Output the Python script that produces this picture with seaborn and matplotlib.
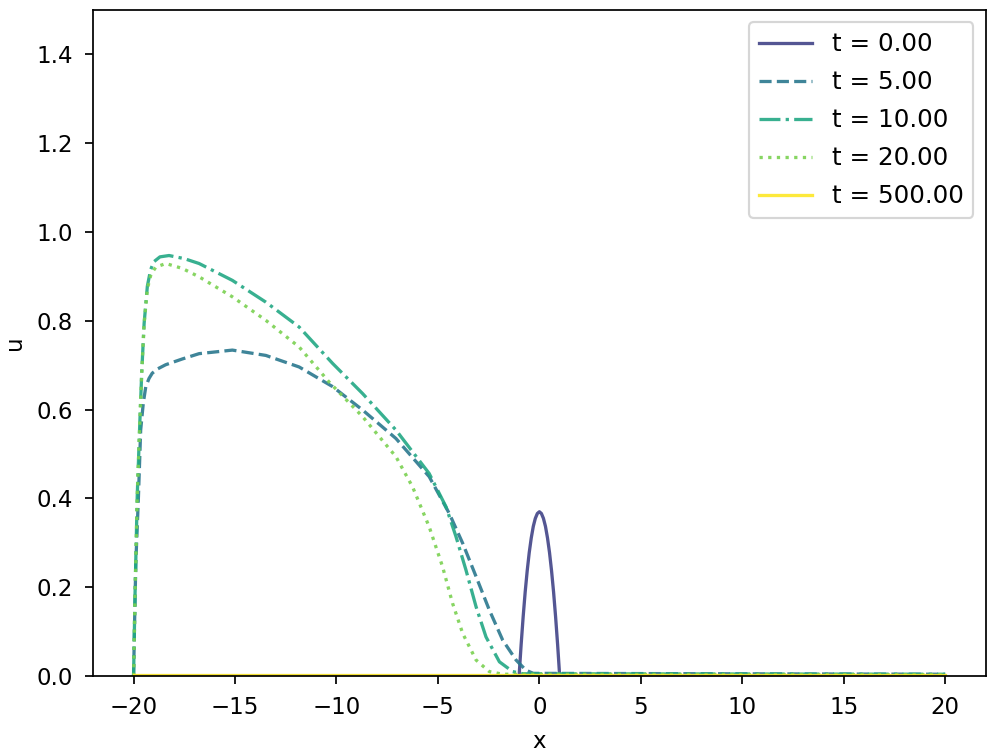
import numpy as np
import matplotlib
matplotlib.use("Agg")
import matplotlib.pyplot as plt
import seaborn as sns
import pandas as pd

# values
x_t0 = [-20, -1.0, -0.9, -0.8, -0.7, -0.6, -0.5, -0.4, -0.3, -0.2, -0.1, 0.0,
        0.1, 0.2, 0.3, 0.4, 0.5, 0.6, 0.7, 0.8, 0.9, 1.0, 20]
u_t0 = [0.0, 0.0, 0.070, 0.133, 0.189, 0.237, 0.278, 0.311, 0.337, 0.355, 0.366, 0.370,
        0.366, 0.355, 0.337, 0.311, 0.278, 0.237, 0.189, 0.133, 0.070, 0.0, 0.0]

x_t5 = [-20.0, -19.95, -19.89, -19.76, -19.65, -19.52, -19.40, -19.24, -19.08, -18.80,
        -18.42, -17.6, -16.77, -15.13, -13.48, -11.84, -10.20, -8.71, -7.07, -5.43,
        -4.44, -3.78, -3.12, -2.47, -1.81, -1.15, -0.66, -0.3, 20.0]
u_t5 = [0.0, 0.12, 0.254, 0.404, 0.554, 0.615, 0.651, 0.670, 0.682, 0.692,
        0.701, 0.714, 0.726, 0.734, 0.722, 0.696, 0.652, 0.599, 0.535, 0.449,
        0.366, 0.299, 0.224, 0.149, 0.081, 0.036, 0.013, 0.006, 0.004]

x_t10 = [-20.0, -19.93, -19.82, -19.70, -19.60, -19.48, -19.32, -19.16, -19.00, -18.70,
         -18.25, -17.5, -16.77, -15.13, -13.48, -11.84, -10.19, -8.71, -7.07, -5.43,
         -4.60, -4.11, -3.62, -3.12, -2.63, -1.97, -1.32, -0.8, 20.0]
u_t10 = [0.0, 0.178, 0.404, 0.56, 0.681, 0.794, 0.878, 0.915, 0.933, 0.944,
         0.947, 0.940, 0.929, 0.891, 0.842, 0.786, 0.704, 0.636, 0.554, 0.456,
         0.381, 0.314, 0.239, 0.156, 0.088, 0.032, 0.010, 0.005, 0.004]

x_t20 = [-20.0, -19.93, -19.82, -19.70, -19.60, -19.48, -19.32, -19.14, -18.90, -18.41,
         -17.6, -16.77, -15.13, -13.48, -11.84, -10.36, -8.71, -7.07, -6.25, -5.43,
         -4.77, -4.28, -3.78, -3.12, -2.47, -1.8, 20.0]
u_t20 = [0.0, 0.178, 0.404, 0.56, 0.681, 0.794, 0.872, 0.905, 0.921, 0.929,
         0.918, 0.899, 0.854, 0.801, 0.741, 0.662, 0.584, 0.494, 0.426, 0.336,
         0.246, 0.164, 0.096, 0.036, 0.010, 0.004, 0.003]

x_t500 = [-20.0, 20.0]
u_t500 = [0.0015, 0.0015]

labels = ["t = 0.00", "t = 5.00", "t = 10.00", "t = 20.00", "t = 500.00"]
curves = [(x_t0, u_t0), (x_t5, u_t5), (x_t10, u_t10), (x_t20, u_t20), (x_t500, u_t500)]
styles = ["-", "--", "-.", ":", "-"]
colors = plt.cm.viridis(np.linspace(0.2, 1.0, 5))

fig = plt.figure(figsize=(1002 / 157, 756 / 157), dpi=157)
ax = fig.add_axes([0.0928, 0.1058, 0.891, 0.881])

for (xs, us), lab, ls, c in zip(curves, labels, styles, colors):
    df = pd.DataFrame({"x": xs, "u": us})
    sns.lineplot(data=df, x="x", y="u", ax=ax, color=c, linestyle=ls,
                 label=lab, alpha=0.9)

ax.set_xlim(-22, 22)
ax.set_ylim(0, 1.5)
ax.tick_params(labelsize=10.5, pad=5.5)
ax.set_xlabel("x", fontsize=10.5, labelpad=5)
ax.set_ylabel("u", fontsize=10.5, labelpad=5)
ax.legend(loc="upper right", fontsize=11.3, handlelength=2.15, labelspacing=0.57)

plt.savefig("out.png", dpi=157)
